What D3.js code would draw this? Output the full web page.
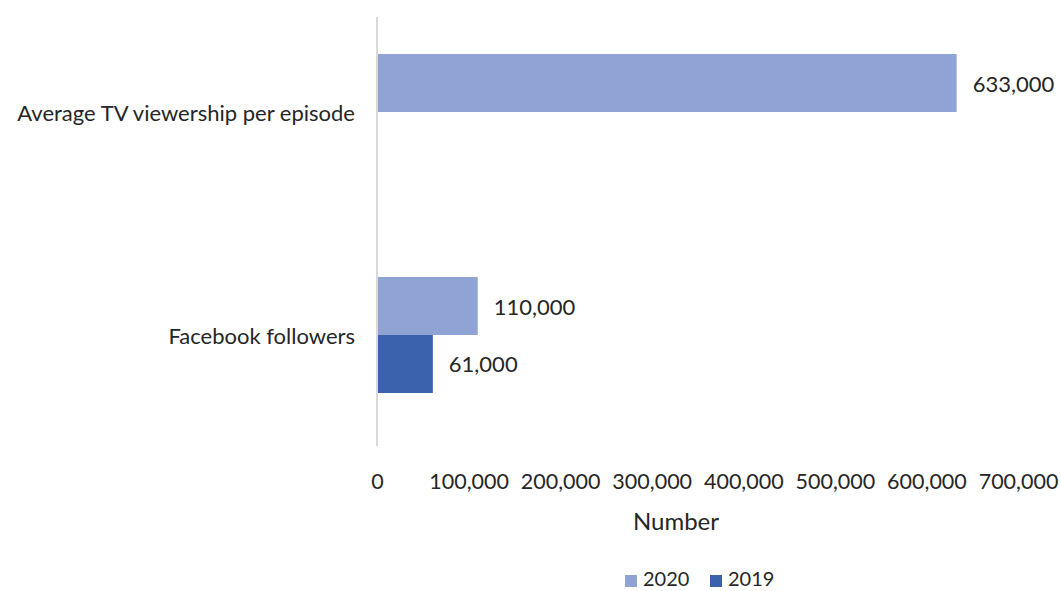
<!DOCTYPE html>
<html>
<head>
<meta charset="utf-8">
<script src="https://cdn.jsdelivr.net/npm/d3@7"></script>
<style>
  html, body { margin: 0; padding: 0; background: #fff; }
  text { font-family: Lato, "Open Sans", sans-serif; fill: #262626; }
</style>
</head>
<body>
<svg id="chart" width="1061" height="591"></svg>
<script>
// Categories, top to bottom
const categories = ["Average TV viewership per episode", "Facebook followers"];
// Series, in the order drawn inside each category
const seriesNames = ["2020", "2019"];
const values2020 = [633000, 110000];
const values2019 = [null, 61000];
const tickValues = [0, 100000, 200000, 300000, 400000, 500000, 600000, 700000];
const axisTitle = "Number";

const colors = { "2020": "#8FA3D4", "2019": "#3A62AD" };
const seriesValues = { "2020": values2020, "2019": values2019 };

const svg = d3.select("#chart");
const plotLeft = 377, plotTop = 0.5;
const x = d3.scaleLinear().domain([0, 700000]).range([plotLeft, plotLeft + 641]);
const y = d3.scaleBand().domain(categories).range([plotTop, plotTop + 446])
  .paddingInner(0.48).paddingOuter(0.24);
const ySub = d3.scaleBand().domain(seriesNames).range([0, y.bandwidth()]);

const fmt = d3.format(",");

// Bars with value labels
categories.forEach((cat, i) => {
  seriesNames.forEach(s => {
    const v = seriesValues[s][i];
    if (v == null) return;
    const y0 = y(cat) + ySub(s);
    svg.append("rect")
      .attr("x", x(0)).attr("y", y0)
      .attr("width", x(v) - x(0)).attr("height", ySub.bandwidth())
      .attr("fill", colors[s]);
    svg.append("text")
      .attr("x", x(v) + 16).attr("y", y0 + ySub.bandwidth() / 2)
      .attr("dominant-baseline", "central")
      .attr("font-size", 22)
      .text(fmt(v));
  });
});

// Vertical axis line at zero
svg.append("line")
  .attr("x1", x(0)).attr("x2", x(0))
  .attr("y1", 17).attr("y2", 446)
  .attr("stroke", "#d9d9d9").attr("stroke-width", 2);

// Category labels
svg.selectAll("text.cat").data(categories).join("text")
  .attr("class", "cat")
  .attr("x", 355)
  .attr("y", d => y(d) + y.bandwidth() / 2)
  .attr("text-anchor", "end")
  .attr("dominant-baseline", "central")
  .attr("font-size", 22)
  .text(d => d);

// Bottom axis tick labels (no line, no ticks)
const xAxis = d3.axisBottom(x).tickValues(tickValues).tickFormat(fmt).tickSize(0).tickPadding(0);
const gx = svg.append("g").attr("transform", "translate(0,481)").call(xAxis);
gx.select(".domain").remove();
gx.selectAll("text")
  .attr("font-size", 21.5)
  .attr("font-family", "Lato, 'Open Sans', sans-serif")
  .attr("fill", "#262626")
  .attr("dy", null)
  .attr("dominant-baseline", "central");

// Axis title
svg.append("text")
  .attr("x", 676).attr("y", 520)
  .attr("text-anchor", "middle")
  .attr("dominant-baseline", "central")
  .attr("font-size", 24)
  .text(axisTitle);

// Legend
const legendItems = [{ name: "2020", x: 625 }, { name: "2019", x: 710 }];
const lg = svg.append("g");
legendItems.forEach(d => {
  lg.append("rect").attr("x", d.x).attr("y", 575).attr("width", 12).attr("height", 12)
    .attr("fill", colors[d.name]);
  lg.append("text").attr("x", d.x + 18).attr("y", 578)
    .attr("dominant-baseline", "central").attr("font-size", 20).text(d.name);
});
</script>
</body>
</html>
